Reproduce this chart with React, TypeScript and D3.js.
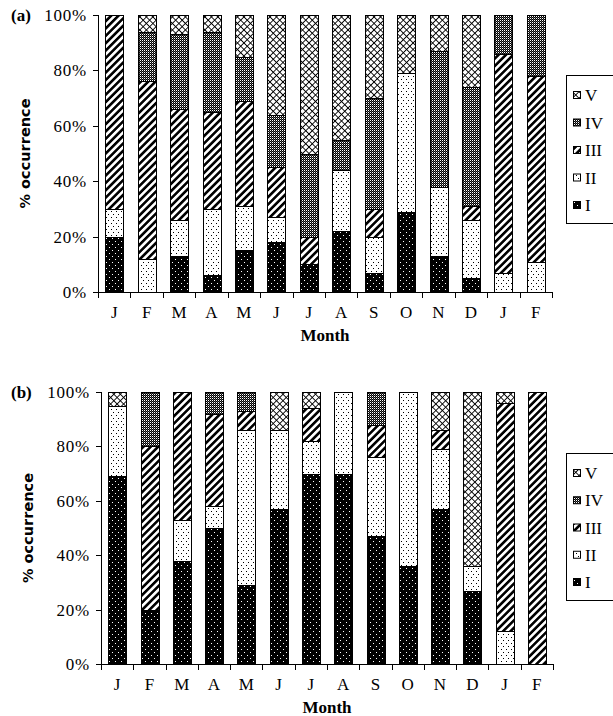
import * as d3 from 'd3'

const MONTHS = ['J', 'F', 'M', 'A', 'M', 'J', 'J', 'A', 'S', 'O', 'N', 'D', 'J', 'F']
const TYPES = ['I', 'II', 'III', 'IV', 'V']
const Y_TICKS = [0, 20, 40, 60, 80, 100]

// panel (a)
const A_I = [20, 0, 13, 6, 15, 18, 10, 22, 7, 29, 13, 5, 0, 0]
const A_II = [10, 12, 13, 24, 16, 9, 0, 22, 13, 50, 25, 21, 7, 11]
const A_III = [70, 64, 40, 35, 38, 18, 10, 0, 10, 0, 0, 5, 79, 67]
const A_IV = [0, 18, 27, 29, 16, 19, 30, 11, 40, 0, 49, 43, 14, 22]
const A_V = [0, 6, 7, 6, 15, 36, 50, 45, 30, 21, 13, 26, 0, 0]

// panel (b)
const B_I = [69, 20, 38, 50, 29, 57, 70, 70, 47, 36, 57, 27, 0, 0]
const B_II = [26, 0, 15, 8, 57, 29, 12, 30, 29, 64, 22, 9, 12, 0]
const B_III = [0, 60, 47, 34, 7, 0, 12, 0, 12, 0, 7, 0, 84, 100]
const B_IV = [0, 20, 0, 8, 7, 0, 0, 0, 12, 0, 0, 0, 0, 0]
const B_V = [5, 0, 0, 0, 0, 14, 6, 0, 0, 0, 14, 64, 4, 0]

const FILL: Record<string, string> = {
  I: 'url(#pI)',
  II: 'url(#pII)',
  III: 'url(#pIII)',
  IV: 'url(#pIV)',
  V: 'url(#pV)',
}

const SERIF = '"Liberation Serif", "Times New Roman", serif'

type Row = Record<string, number>

function buildRows(series: number[][]): Row[] {
  return MONTHS.map((_, i) => {
    const row: Row = { idx: i }
    TYPES.forEach((t, k) => { row[t] = series[k][i] })
    return row
  })
}

interface PanelProps {
  label: string
  series: number[][]
  x0: number
  x1: number
  yTop: number
  yBot: number
  legendTop: number
  legendBot: number
}

function Panel({ label, series, x0, x1, yTop, yBot, legendTop, legendBot }: PanelProps) {
  const rows = buildRows(series)
  const stacked = d3.stack<Row>().keys(TYPES)(rows)

  const x = d3.scaleBand<number>()
    .domain(d3.range(MONTHS.length))
    .range([x0, x1])
    .paddingInner(0.45)
    .paddingOuter(0.225)
  const step = (x1 - x0) / MONTHS.length
  const y = d3.scaleLinear().domain([0, 100]).range([yBot, yTop])

  const legendY = d3.scalePoint<string>()
    .domain([...TYPES].reverse())
    .range([legendTop + 20, legendBot - 18])

  return (
    <g>
      {stacked.map(s => (
        <g key={s.key}>
          {s.map((d, i) => (d[1] - d[0] > 0 ? (
            <rect
              key={i}
              x={Math.round(x(i)!) + 0.5}
              y={Math.round(y(d[1])) + 0.5}
              width={Math.round(x.bandwidth())}
              height={Math.round(y(d[0])) - Math.round(y(d[1]))}
              fill={FILL[s.key]}
              stroke="#000"
              strokeWidth={1}
            />
          ) : null))}
        </g>
      ))}

      {/* y axis */}
      <line x1={x0 + 0.5} x2={x0 + 0.5} y1={yTop} y2={yBot + 0.5} stroke="#000" />
      {Y_TICKS.map(t => (
        <g key={t}>
          <line x1={x0 - 5} x2={x0 + 0.5} y1={Math.round(y(t)) + 0.5} y2={Math.round(y(t)) + 0.5} stroke="#000" />
          <text x={x0 - 11} y={y(t) + 6} textAnchor="end" fontFamily={SERIF} fontSize={17} letterSpacing={0.8}>
            {t}%
          </text>
        </g>
      ))}

      {/* x axis */}
      <line x1={x0} x2={x1} y1={Math.round(yBot) + 0.5} y2={Math.round(yBot) + 0.5} stroke="#000" />
      {d3.range(MONTHS.length + 1).map(i => (
        <line
          key={i}
          x1={Math.round(x0 + i * step) + 0.5}
          x2={Math.round(x0 + i * step) + 0.5}
          y1={yBot}
          y2={yBot + 6}
          stroke="#000"
        />
      ))}
      {MONTHS.map((m, i) => (
        <text key={i} x={x(i)! + x.bandwidth() / 2} y={yBot + 26} textAnchor="middle" fontFamily={SERIF} fontSize={17}>
          {m}
        </text>
      ))}
      <text x={(x0 + x1) / 2} y={yBot + 49} textAnchor="middle" fontFamily={SERIF} fontSize={17} fontWeight="bold">
        Month
      </text>

      <text
        transform={`translate(${x0 - 68},${(yTop + yBot) / 2}) rotate(-90)`}
        textAnchor="middle"
        fontFamily='"DejaVu Sans", sans-serif'
        fontSize={14.5}
        fontWeight="bold"
      >
        % occurrence
      </text>
      <text x={11} y={yTop + 6} fontFamily={SERIF} fontSize={17} fontWeight="bold">{label}</text>

      {/* legend */}
      <rect x={566.5} y={legendTop + 0.5} width={60} height={legendBot - legendTop} fill="#fff" stroke="#000" />
      {TYPES.map(t => (
        <g key={t}>
          <rect x={573.5} y={legendY(t)! - 3.5} width={7} height={7} fill={FILL[t]} stroke="#000" />
          <text x={585} y={legendY(t)! + 6} fontFamily={SERIF} fontSize={17}>{t}</text>
        </g>
      ))}
    </g>
  )
}

export default function App() {
  return (
    <svg
      width={613}
      height={716}
      style={{ position: 'absolute', left: 0, top: 0, background: '#fff' }}
    >
      <defs>
        <pattern id="pI" width={6} height={6} patternUnits="userSpaceOnUse">
          <rect width={6} height={6} fill="#000" />
          <rect x={1} y={1} width={1} height={1} fill="#fff" />
          <rect x={4} y={4} width={1} height={1} fill="#fff" />
        </pattern>
        <pattern id="pII" width={5} height={6} patternUnits="userSpaceOnUse">
          <rect width={5} height={6} fill="#fff" />
          <rect x={1} y={1} width={1} height={1} fill="#000" />
          <rect x={3} y={4} width={1} height={1} fill="#000" />
        </pattern>
        <pattern id="pIII" width={5.2} height={5.2} patternUnits="userSpaceOnUse" patternTransform="rotate(45)">
          <rect width={5.2} height={5.2} fill="#fff" />
          <rect width={2.6} height={5.2} fill="#000" />
        </pattern>
        <pattern id="pIV" width={2} height={2} patternUnits="userSpaceOnUse">
          <rect width={2} height={2} fill="#000" />
          <rect x={0} y={0} width={1} height={1} fill="#fff" />
          <rect x={1} y={1} width={1} height={1} fill="#555" />
        </pattern>
        <pattern id="pV" width={4.6} height={4.6} patternUnits="userSpaceOnUse" patternTransform="rotate(45)">
          <rect width={4.6} height={4.6} fill="#fff" />
          <rect width={0.9} height={4.6} fill="#000" />
          <rect width={4.6} height={0.9} fill="#000" />
        </pattern>
      </defs>
      <Panel
        label="(a)"
        series={[A_I, A_II, A_III, A_IV, A_V]}
        x0={98}
        x1={552}
        yTop={15}
        yBot={292}
        legendTop={75}
        legendBot={223}
      />
      <Panel
        label="(b)"
        series={[B_I, B_II, B_III, B_IV, B_V]}
        x0={101}
        x1={553}
        yTop={392}
        yBot={664}
        legendTop={453}
        legendBot={600}
      />
    </svg>
  )
}
